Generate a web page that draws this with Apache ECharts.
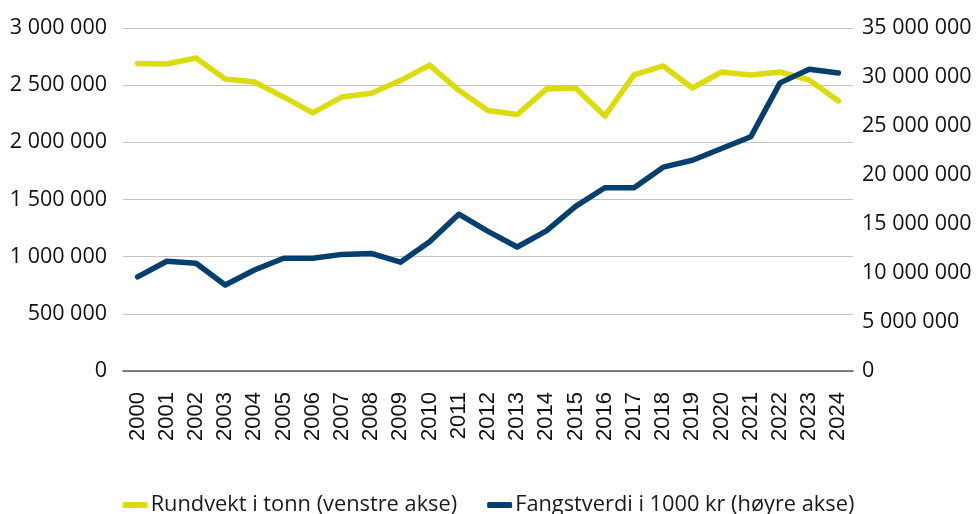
<!DOCTYPE html>
<html>
<head>
<meta charset="utf-8">
<script src="https://cdn.jsdelivr.net/npm/echarts@6/dist/echarts.min.js"></script>
<style>html,body{margin:0;padding:0;background:#fff}#c{width:977px;height:514px}</style>
</head>
<body>
<div id="c"></div>
<script>
const years = ['2000','2001','2002','2003','2004','2005','2006','2007','2008','2009','2010','2011','2012','2013','2014','2015','2016','2017','2018','2019','2020','2021','2022','2023','2024'];
const rundvekt = [2690000,2685000,2738000,2554000,2528000,2397000,2257000,2397000,2430000,2540000,2675000,2455000,2278000,2243000,2466000,2475000,2230000,2590000,2668000,2475000,2615000,2589000,2615000,2545000,2362000];
const fangstverdi = [9600000,11200000,11000000,8780000,10300000,11500000,11500000,11900000,12000000,11100000,13200000,16000000,14250000,12650000,14300000,16800000,18700000,18700000,20800000,21500000,22700000,23900000,29400000,30800000,30400000];
const seriesNames = ['Rundvekt i tonn (venstre akse)','Fangstverdi i 1000 kr (høyre akse)'];
const fmt = v => String(v).replace(/\B(?=(\d{3})+(?!\d))/g, ' ');
const chart = echarts.init(document.getElementById('c'), null, {renderer:'canvas'});
chart.setOption({
  animation:false,
  grid:{left:123,right:124,top:28,bottom:143},
  legend:{
    top:489, left:'center', itemWidth:25, itemHeight:6, itemGap:30, icon:'roundRect',
    textStyle:{fontFamily:'Open Sans', fontSize:21.8, color:'#1a1a1a', padding:[0,0,0,-2]},
    data:seriesNames
  },
  xAxis:{
    type:'category', data:years, boundaryGap:true,
    axisLine:{lineStyle:{color:'#595959', width:1.5}},
    axisTick:{show:false},
    axisLabel:{rotate:90, interval:0, margin:21, fontFamily:'Liberation Sans', fontSize:22, color:'#111'}
  },
  yAxis:[
    {type:'value', min:0, max:3000000, interval:500000,
     axisLine:{show:false}, axisTick:{show:false},
     splitLine:{lineStyle:{color:'#c4c4c4', width:1.2}},
     axisLabel:{formatter:fmt, margin:16, fontFamily:'Open Sans', fontSize:21.5, color:'#111'}},
    {type:'value', min:0, max:35000000, interval:5000000,
     axisLine:{show:false}, axisTick:{show:false}, splitLine:{show:false},
     axisLabel:{formatter:fmt, margin:9, fontFamily:'Open Sans', fontSize:21.5, color:'#111'}}
  ],
  series:[
    {name:seriesNames[0], type:'line', data:rundvekt, yAxisIndex:0, symbol:'none',
     lineStyle:{color:'#dcdc0c', width:5.5, cap:'round', join:'round'}, itemStyle:{color:'#dcdc0c'}},
    {name:seriesNames[1], type:'line', data:fangstverdi, yAxisIndex:1, symbol:'none',
     lineStyle:{color:'#053f6e', width:5.5, cap:'round', join:'round'}, itemStyle:{color:'#053f6e'}}
  ]
});
</script>
</body>
</html>
